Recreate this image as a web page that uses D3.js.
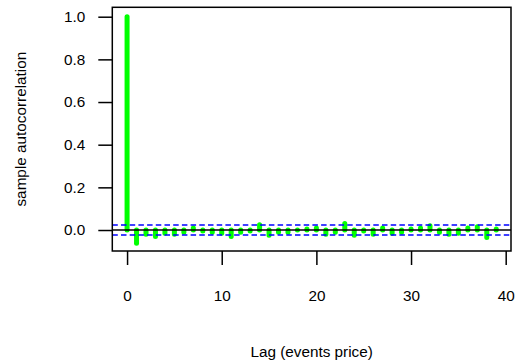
<!DOCTYPE html>
<html>
<head>
<meta charset="utf-8">
<script src="https://cdn.jsdelivr.net/npm/d3@7"></script>
<style>
  body { margin: 0; background: #fff; }
  text { font-family: "Liberation Sans", Arial, sans-serif; }
</style>
</head>
<body>
<svg id="chart" width="517" height="360"></svg>
<script>
// lags and sample autocorrelation
var lags = d3.range(0, 40);
var acfValues = [1.0, -0.062, -0.02, -0.03, -0.015, -0.02, -0.01, 0.01, -0.005, -0.01,
                 -0.015, -0.03, -0.01, -0.005, 0.025, -0.025, -0.01, -0.01, 0.0, 0.005,
                 0.01, -0.02, -0.01, 0.03, -0.025, -0.005, -0.02, 0.01, -0.015, -0.01,
                 0.005, 0.01, 0.02, -0.01, -0.02, -0.015, 0.01, 0.015, -0.035, 0.005];
var ciLevel = 0.023;
var xTicks = [0, 10, 20, 30, 40];
var yTicks = [0.0, 0.2, 0.4, 0.6, 0.8, 1.0];

var svg = d3.select("#chart"),
    width = +svg.attr("width"),
    height = +svg.attr("height");

var fontSize = 15.3;
var box = {left: 112.3, right: 511, top: 7.3, bottom: 251};

var x = d3.scaleLinear().domain([-1.56, 40.56]).range([box.left, box.right]);
var y = d3.scaleLinear().domain([-0.0984, 1.0441]).range([box.bottom, box.top]);

svg.append("rect").attr("width", width).attr("height", height).attr("fill", "#fff");

// acf bars
svg.append("g")
  .selectAll("line")
  .data(lags)
  .enter().append("line")
    .attr("x1", function(d) { return x(d); })
    .attr("x2", function(d) { return x(d); })
    .attr("y1", y(0))
    .attr("y2", function(d) { return y(acfValues[d]); })
    .attr("stroke", "#00ff00")
    .attr("stroke-width", 5)
    .attr("stroke-linecap", "round");

// zero line
svg.append("line")
  .attr("x1", box.left).attr("x2", box.right)
  .attr("y1", y(0)).attr("y2", y(0))
  .attr("stroke", "#000").attr("stroke-width", 1.5);

// confidence bounds
svg.selectAll(".ci")
  .data([ciLevel, -ciLevel])
  .enter().append("line")
    .attr("class", "ci")
    .attr("x1", box.left).attr("x2", box.right)
    .attr("y1", function(d) { return y(d); })
    .attr("y2", function(d) { return y(d); })
    .attr("stroke", "#0000ff")
    .attr("stroke-width", 1.5)
    .attr("stroke-dasharray", "5.5,3.2");

// box
svg.append("rect")
  .attr("x", box.left).attr("y", box.top)
  .attr("width", box.right - box.left).attr("height", box.bottom - box.top)
  .attr("fill", "none").attr("stroke", "#000").attr("stroke-width", 1.5);

// x axis
var xAxis = svg.append("g")
  .attr("transform", "translate(0," + box.bottom + ")")
  .call(d3.axisBottom(x).tickValues(xTicks).tickSize(14).tickSizeOuter(0).tickPadding(25.5)
    .tickFormat(d3.format("d")));
xAxis.select(".domain").remove();
xAxis.selectAll("line").attr("stroke", "#000").attr("stroke-width", 1.5);
xAxis.selectAll("text").attr("font-size", fontSize).attr("fill", "#000")
  .style("font-family", "'Liberation Sans', Arial, sans-serif");

// y axis
var yAxis = svg.append("g")
  .attr("transform", "translate(" + box.left + ",0)")
  .call(d3.axisLeft(y).tickValues(yTicks).tickSize(14).tickSizeOuter(0).tickPadding(13)
    .tickFormat(d3.format(".1f")));
yAxis.select(".domain").remove();
yAxis.selectAll("line").attr("stroke", "#000").attr("stroke-width", 1.5);
yAxis.selectAll("text").attr("font-size", fontSize).attr("fill", "#000")
  .style("font-family", "'Liberation Sans', Arial, sans-serif");

// titles
svg.append("text")
  .attr("x", (box.left + box.right) / 2)
  .attr("y", 357)
  .attr("text-anchor", "middle")
  .attr("font-size", fontSize)
  .text("Lag (events price)");

svg.append("text")
  .attr("transform", "translate(26," + ((box.top + box.bottom) / 2) + ") rotate(-90)")
  .attr("text-anchor", "middle")
  .attr("font-size", fontSize)
  .text("sample autocorrelation");
</script>
</body>
</html>
